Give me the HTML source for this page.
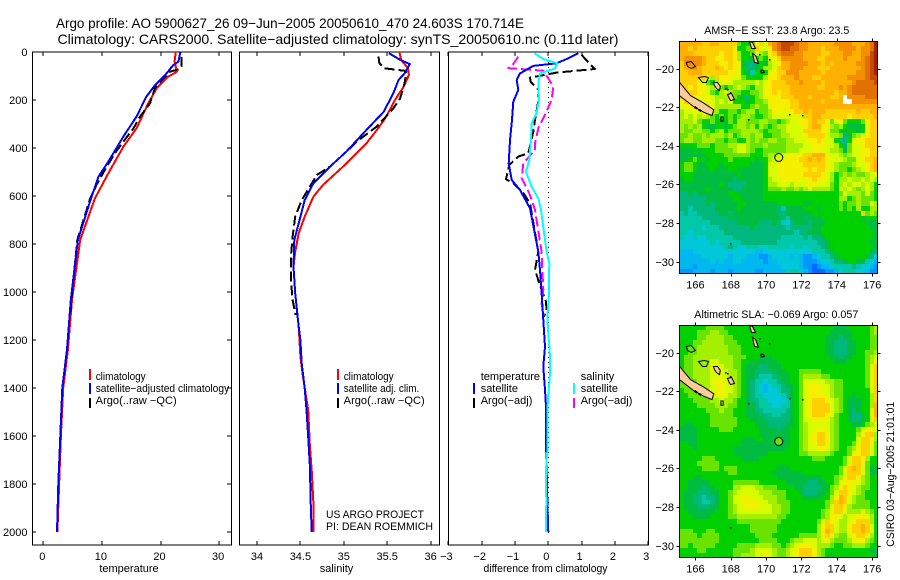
<!DOCTYPE html>
<html lang="en">
<head>
<meta charset="utf-8">
<title>Argo profile 5900627_26</title>
<style>
html,body{margin:0;padding:0;background:#fff}
svg{display:block}
text{font-family:"Liberation Sans",sans-serif;font-size:11px;fill:#000}
.ttl{font-size:14px}
</style>
</head>
<body>
<svg id="fig" xmlns="http://www.w3.org/2000/svg" width="900" height="580" viewBox="0 0 900 580" shape-rendering="crispEdges">
<rect width="900" height="580" fill="#fff"/>
<text class="ttl" x="56" y="28" textLength="468" lengthAdjust="spacingAndGlyphs">Argo profile: AO 5900627_26 09−Jun−2005 20050610_470 24.603S 170.714E</text>
<text class="ttl" x="57.5" y="44" textLength="561" lengthAdjust="spacingAndGlyphs">Climatology: CARS2000. Satellite−adjusted climatology: synTS_20050610.nc (0.11d later)</text>

<g id="panels"></g>
<g id="maps"></g>

<text x="129" y="572" text-anchor="middle">temperature</text>
<text x="336.5" y="572" text-anchor="middle">salinity</text>
<text x="545.5" y="572" text-anchor="middle" textLength="124" lengthAdjust="spacingAndGlyphs">difference from climatology</text>

<g>
<rect x="89" y="369" width="2" height="11" fill="#f00"/>
<text x="95.7" y="380" textLength="50" lengthAdjust="spacingAndGlyphs">climatology</text>
<rect x="89" y="383" width="2" height="11" fill="#00f"/>
<text x="95.7" y="392" textLength="133.5" lengthAdjust="spacingAndGlyphs">satellite−adjusted climatology</text>
<rect x="89" y="398" width="2" height="10" fill="#000"/>
<text x="95.7" y="404" textLength="81" lengthAdjust="spacingAndGlyphs">Argo(..raw −QC)</text>
</g>
<g>
<rect x="337" y="369" width="2" height="11" fill="#f00"/>
<text x="343.7" y="380" textLength="50" lengthAdjust="spacingAndGlyphs">climatology</text>
<rect x="337" y="383" width="2" height="11" fill="#00f"/>
<text x="343.7" y="392" textLength="75.6" lengthAdjust="spacingAndGlyphs">satellite adj. clim.</text>
<rect x="337" y="398" width="2" height="10" fill="#000"/>
<text x="343.7" y="404" textLength="81" lengthAdjust="spacingAndGlyphs">Argo(..raw −QC)</text>
</g>
<g>
<text x="480.7" y="380">temperature</text>
<rect x="473" y="383" width="2" height="11" fill="#00f"/>
<text x="480.7" y="392">satellite</text>
<rect x="473" y="398" width="2" height="10" fill="#000"/>
<text x="480.7" y="404">Argo(−adj)</text>
<text x="580.7" y="380">salinity</text>
<rect x="573" y="383" width="2" height="11" fill="#0ff"/>
<text x="580.7" y="392">satellite</text>
<rect x="573" y="398" width="2" height="10" fill="#f0f"/>
<text x="580.7" y="404">Argo(−adj)</text>
</g>
<text x="326" y="518" textLength="98" lengthAdjust="spacingAndGlyphs">US ARGO PROJECT</text>
<text x="326" y="530" textLength="107" lengthAdjust="spacingAndGlyphs">PI: DEAN ROEMMICH</text>
<text x="704.3" y="34" textLength="145" lengthAdjust="spacingAndGlyphs">AMSR−E SST: 23.8 Argo: 23.5</text>
<text x="694.3" y="318" textLength="164" lengthAdjust="spacingAndGlyphs">Altimetric SLA: −0.069 Argo: 0.057</text>
<text transform="translate(894 546.7) rotate(-90)" textLength="145" lengthAdjust="spacingAndGlyphs">CSIRO 03−Aug−2005 21:01:01</text>
</svg>

<script>
// ---- profile data ----
const depthTicks = [0,200,400,600,800,1000,1200,1400,1600,1800,2000];
const tempTicks = [0,10,20,30];
const salTicks = [34,34.5,35,35.5,36];
const salTickLabels = ['34','34.5','35','35.5','36'];
const diffTicks = [-3,-2,-1,0,1,2,3];

const tempClimDepth = [0,40,82,103,151,214,318,395,492,610,783,1033,1240,1400,1600,1700,2000];
const tempClimValue = [22.6,22.4,22.8,21.3,19.35,17.9,15.9,13.65,11.4,8.8,6.3,4.9,4.2,3.4,3.0,2.85,2.4];
const tempSatDepth = [0,40,54,96,137,186,269,353,457,520,613,783,1033,1240,1400,1600,1800,2000];
const tempSatValue = [23.4,23.05,22.2,20.8,19.1,17.6,15.9,13.65,11.1,9.4,8.1,5.9,4.7,4.05,3.25,2.9,2.56,2.34];
const tempArgoDepth = [20,60,71,82,110,148,214,269,318,366,422,492,553,610,783,1033,1100];
const tempArgoValue = [23.6,23.6,23.3,21.6,20.5,19.1,18.2,16.5,15.4,13.9,12.2,10.5,9.1,8.0,5.8,4.8,4.6];

const salClimDepth = [0,33,68,96,144,200,269,311,381,478,554,603,686,755,832,895,1006,1145,1269,1353,1492,1644,1742,1880,2000];
const salClimValue = [35.64,35.66,35.74,35.75,35.69,35.59,35.49,35.41,35.26,34.99,34.76,34.65,34.55,34.48,34.44,34.42,34.44,34.48,34.5,34.53,34.59,34.61,34.63,34.65,34.65];
const salSatDepth = [5,33,50,89,117,172,249,325,415,478,547,617,714,783,895,1006,1145,1200,1297,1401,1492,1603,1728,1894,2000];
const salSatValue = [35.52,35.65,35.76,35.7,35.63,35.57,35.46,35.26,35.03,34.84,34.65,34.55,34.48,34.43,34.42,34.44,34.48,34.5,34.515,34.55,34.57,34.59,34.61,34.62,34.63];
const salArgoDepth = [19,47,68,79,130,193,235,311,367,415,478,512,561,617,686,769,853,950,1033,1096];
const salArgoValue = [35.4,35.41,35.47,35.72,35.7,35.65,35.57,35.38,35.17,35.03,34.84,34.69,34.61,34.515,34.44,34.41,34.39,34.39,34.41,34.445];

const diffTempSatDepth = [5,29,47,58,89,117,158,207,283,367,464,533,575,651,832,908,1005,1117,1228,1311,1408,1478,1617,1867,2000];
const diffTempSatValue = [0.9,0.55,0.25,-0.45,-0.85,-0.95,-0.9,-1.05,-1.09,-1.15,-1.19,-1.1,-0.85,-0.55,-0.3,-0.25,-0.2,-0.15,-0.1,-0.15,-0.1,-0.07,-0.07,-0.03,0];
const diffSalSatDepth = [5,29,47,68,89,130,200,254,297,367,450,499,561,610,658,832,880,1005,1111,1269,1340,1430,1478,1667,1736,1875,2000];
const diffSalSatValue = [-0.42,-0.15,0.27,0.2,-0.25,-0.3,-0.28,-0.35,-0.5,-0.52,-0.57,-0.67,-0.5,-0.3,-0.22,-0.05,0.03,0.02,-0.03,0.05,0.05,0,-0.02,-0.03,-0.07,-0.06,-0.07];
const diffTempArgoDepth = [12,50,71,86,107,124,158,205,283,332,422,436,471,530,547,588,630,832,908,964,1040,1076,1103];
const diffTempArgoValue = [1.0,1.25,1.4,0.25,-0.55,-0.53,-0.3,-0.3,-0.4,-0.45,-0.6,-0.9,-1.17,-1.27,-1.05,-0.75,-0.55,-0.3,-0.4,-0.27,-0.07,-0.05,-0.13];
const diffSalArgoDepth = [19,50,67,72,78,110,144,200,262,318,381,408,464,526,596,658,832,908,992,1049,1097];
const diffSalArgoValue = [-0.9,-1.05,-1.2,-0.75,-0.15,0,0.15,0.1,-0.1,-0.3,-0.4,-0.4,-0.75,-0.8,-0.55,-0.4,-0.2,-0.18,-0.15,-0.2,-0.13];

// ---- map data: colour-scale step per 0.25 degree cell, north to south ----
const mapLonTicks = [166,168,170,172,174,176];
const mapLatTicks = [-20,-22,-24,-26,-28,-30];
const n = null;
const sstLevels = [
[13,13,13,13,13,12,12,13,13,12,12,12,12,8,7,7,8,11,12,10,13,14,15,16,16,16,15,14,14,13,13,13,13,13,13,14,14,14,14,13,13,13,14,15,17],
[13,13,12,13,12,12,12,12,12,12,12,12,11,7,7,8,8,12,10,10,11,14,15,16,16,15,15,14,14,13,13,13,12,13,13,13,14,14,14,14,13,14,14,15,17],
[13,13,13,12,12,12,12,12,12,11,12,12,11,9,7,7,8,10,9,8,11,12,14,15,15,15,14,14,13,13,13,13,12,12,13,13,13,14,14,13,13,14,14,16,17],
[13,14,14,14,14,13,12,12,11,11,12,12,11,9,7,7,6,7,8,7,10,11,12,14,14,14,14,14,13,13,13,12,12,13,13,13,13,14,13,13,13,14,15,16,17],
[12,14,14,14,14,13,12,12,12,11,11,12,11,11,6,5,5,6,7,6,9,10,11,13,13,14,14,14,14,13,13,13,12,13,12,13,13,13,13,13,14,14,15,16,17],
[12,13,13,14,13,12,12,12,13,12,11,12,11,10,7,5,5,6,7,9,9,10,12,13,13,14,14,14,13,13,13,12,12,12,13,13,13,13,13,13,13,14,15,16,17],
[12,12,13,13,13,12,12,12,12,12,12,11,11,10,7,6,4,7,7,7,10,11,12,12,14,14,14,13,13,13,13,13,12,13,13,13,13,13,13,13,14,14,15,16,17],
[12,12,12,12,12,12,11,9,12,11,11,11,10,10,8,7,7,7,7,9,11,11,12,13,13,13,14,13,13,13,12,12,13,13,13,13,13,13,14,14,14,14,15,16,16],
[12,12,12,12,11,10,8,7,9,10,11,10,9,9,9,9,9,10,9,10,11,12,12,12,13,13,13,14,13,13,13,13,12,13,13,13,13,13,13,14,15,15,15,15,16],
[12,12,11,12,11,11,10,9,10,8,7,8,9,10,9,8,7,9,9,11,11,12,12,12,12,13,13,13,13,13,13,12,12,13,13,13,14,13,14,15,15,15,15,15,15],
[12,12,12,12,11,11,10,8,7,9,10,9,8,8,7,7,8,8,9,11,11,12,11,12,12,13,13,13,13,13,13,13,13,13,13,12,13,13,14,15,15,15,15,15,15],
[12,12,11,11,10,11,11,10,9,9,9,9,8,7,6,5,7,8,9,10,11,11,11,12,12,12,13,13,13,12,13,13,13,13,12,12,13,n,14,14,14,14,15,15,15],
[11,12,11,11,11,10,11,10,9,10,9,10,7,7,7,6,7,8,8,9,11,11,11,11,11,12,12,13,13,13,13,13,12,13,13,13,13,n,n,14,14,14,14,14,14],
[10,11,11,11,11,9,10,11,9,9,9,9,9,9,7,7,8,9,8,8,10,11,11,11,11,12,12,13,13,13,13,13,13,13,13,13,13,13,13,13,13,13,13,13,13],
[9,10,10,11,10,10,9,9,9,7,7,8,8,7,8,9,9,7,8,8,9,11,11,10,11,11,12,12,13,12,13,13,13,12,12,12,12,12,12,12,13,12,12,13,13],
[9,10,9,10,9,10,9,8,7,8,7,8,7,8,9,9,8,7,7,8,9,10,10,10,10,10,11,10,12,12,13,13,12,12,12,12,12,12,11,12,12,12,12,12,13],
[9,9,9,10,8,7,7,8,7,7,6,8,7,9,9,8,8,8,9,9,8,8,7,8,9,10,10,11,11,12,13,12,12,11,8,10,11,8,7,7,7,8,11,12,12],
[9,8,9,8,9,7,6,6,7,7,6,7,8,9,9,8,9,7,9,8,7,8,9,9,10,10,10,11,11,12,13,13,11,11,9,8,9,7,6,6,6,7,11,12,12],
[9,8,8,9,9,8,8,7,8,9,7,8,8,8,9,9,9,9,8,7,8,8,8,9,10,10,10,10,12,12,12,12,11,10,8,8,7,6,7,7,6,7,11,12,12],
[8,8,9,8,8,9,8,9,9,9,8,9,7,8,9,9,8,9,9,7,7,8,8,9,9,10,10,10,11,12,12,12,12,10,9,9,8,5,6,8,9,10,11,12,12],
[8,9,9,8,8,9,9,9,8,8,7,8,8,7,7,9,8,9,8,8,9,9,8,8,9,9,10,10,10,11,11,12,11,10,10,7,5,5,7,10,11,11,12,12,12],
[7,7,7,7,8,8,8,7,8,8,8,9,9,10,10,9,8,8,8,9,8,8,8,8,9,9,9,9,10,10,11,11,11,10,10,9,7,5,8,10,10,11,12,12,12],
[6,6,6,7,6,7,7,7,8,8,8,8,9,10,10,9,8,7,7,8,8,8,8,8,9,9,9,10,10,10,11,11,10,10,9,9,8,6,8,10,10,11,11,12,12],
[6,6,6,6,6,6,7,7,7,7,8,8,8,8,8,8,7,7,7,8,9,9,10,10,10,11,11,11,12,12,13,13,13,11,10,10,9,8,9,10,10,11,11,12,12],
[6,6,7,8,7,7,6,7,7,7,7,8,7,7,7,7,7,6,7,7,9,10,10,11,11,11,11,12,12,13,12,13,12,11,10,10,10,9,8,8,10,11,12,12,13],
[7,8,8,7,6,6,7,7,7,6,7,7,7,7,7,7,6,6,6,7,10,10,11,11,11,11,11,11,12,12,12,12,12,11,10,9,8,8,8,9,10,10,11,12,13],
[7,8,8,7,6,6,6,7,6,6,6,7,7,6,6,6,6,6,6,7,10,10,11,11,11,11,11,11,11,12,11,12,12,11,10,9,8,8,7,8,9,10,11,12,13],
[7,7,7,6,6,6,6,6,6,6,6,6,6,7,6,6,6,6,6,7,10,10,11,11,11,11,11,11,12,12,12,12,11,10,9,7,8,9,8,9,8,8,9,10,10],
[6,7,7,6,6,6,6,6,6,6,6,6,5,6,6,6,6,6,6,7,9,10,10,11,11,11,11,10,11,11,12,11,11,10,9,7,9,9,10,9,9,10,9,10,9],
[6,6,6,6,6,6,6,6,6,7,6,5,5,5,5,6,6,6,6,7,9,9,10,10,10,9,10,10,10,11,11,10,10,10,8,7,9,10,9,10,10,9,10,9,7],
[6,6,6,6,6,6,7,6,6,6,6,6,5,5,6,6,6,6,6,7,8,8,8,9,8,8,9,8,9,10,9,9,9,9,8,7,10,9,10,9,8,9,10,9,7],
[5,5,6,5,6,6,6,6,6,6,6,7,7,6,6,6,6,6,6,7,7,7,7,7,7,7,7,7,7,7,7,7,7,7,7,7,8,10,9,9,9,8,10,8,7],
[5,5,5,5,5,5,6,6,6,6,6,6,7,7,6,6,6,6,6,7,7,7,7,7,7,7,7,7,7,7,7,7,7,7,7,7,9,9,7,8,9,8,8,8,7],
[5,5,5,5,5,5,6,5,6,6,6,6,6,7,7,6,6,6,6,6,6,6,7,7,7,7,7,7,6,6,7,7,7,7,7,7,8,7,8,8,9,8,8,10,9],
[5,5,4,5,5,5,5,5,6,6,6,6,6,7,6,6,6,6,6,6,6,6,5,4,6,6,6,6,7,7,7,6,7,7,7,7,8,7,8,7,9,7,7,9,9],
[4,5,4,4,5,5,5,5,5,6,6,5,6,6,6,6,6,6,6,6,6,6,5,5,6,6,6,6,6,6,7,7,7,7,7,7,7,7,7,7,7,12,8,9,8],
[4,4,4,4,4,5,5,5,5,5,5,6,6,6,6,6,6,6,6,6,6,6,6,5,4,6,6,6,5,6,6,6,7,7,7,7,7,7,7,7,7,6,7,7,7],
[4,4,4,4,4,4,4,5,5,5,5,5,5,6,6,6,6,6,5,5,5,6,5,4,3,5,6,6,6,5,6,6,6,7,7,7,7,7,7,7,7,7,6,6,6],
[4,4,4,4,4,3,4,4,4,5,5,5,5,5,5,5,6,5,5,5,5,5,5,5,4,5,5,5,5,5,6,6,7,7,7,7,7,7,7,7,7,7,7,6,6],
[4,4,3,4,4,4,4,4,4,4,5,5,5,5,5,5,5,5,5,5,5,5,5,5,5,5,4,5,5,6,6,6,7,7,7,7,7,7,7,7,7,7,7,7,6],
[4,3,3,4,3,3,4,4,4,4,4,4,5,5,5,5,5,5,5,5,5,5,5,4,4,4,4,4,5,4,5,5,6,7,7,7,7,7,7,7,7,7,7,7,6],
[3,3,3,3,3,3,3,4,3,4,4,4,4,4,5,5,5,5,5,5,5,5,4,4,4,4,4,4,4,4,4,5,5,6,7,7,7,7,7,7,7,7,7,6,6],
[3,3,3,3,3,3,3,3,3,3,4,5,4,3,3,4,4,4,3,3,4,4,4,4,4,3,4,4,3,4,4,4,5,6,7,7,7,7,7,7,7,7,7,7,6],
[2,2,2,3,3,3,3,3,3,3,3,3,3,3,3,3,3,2,2,3,3,3,3,3,3,3,3,3,3,3,4,4,4,5,6,7,7,7,7,7,7,7,7,6,5],
[2,2,2,2,2,3,3,3,3,3,3,2,3,3,3,2,2,2,1,1,2,3,3,3,3,2,3,2,1,1,2,3,4,4,5,6,7,7,7,7,7,7,6,5,3],
[2,2,2,2,2,2,2,3,2,3,2,2,3,3,2,2,2,2,2,1,2,2,3,3,3,3,3,2,1,1,1,2,3,3,4,5,5,6,7,7,6,6,4,3,2],
[2,2,2,1,2,2,2,2,2,2,2,2,2,2,2,2,2,2,2,2,2,2,2,3,3,3,3,2,1,1,0,1,2,2,3,4,4,4,4,5,4,3,3,2,1],
[1,1,1,2,2,2,2,1,2,2,2,1,2,2,2,2,2,1,1,2,2,2,2,2,3,4,4,3,2,1,0,0,0,1,1,2,3,4,4,4,3,3,2,1,1]
];
const slaLevels = [
[7,7,7,7,7,7,8,8,8,8,7,7,7,7,7,7,7,7,7,7,7,7,7,7,7,7,7,7,7,7,7,7,7,7,7,6,6,6,7,7,7,7,7,8,9],
[7,7,7,7,8,8,8,9,9,8,8,7,7,7,7,7,7,7,7,7,7,7,7,7,7,7,7,7,7,7,7,7,7,7,6,6,6,6,6,7,7,7,7,8,9],
[7,7,7,7,8,8,9,9,9,9,8,8,7,7,7,7,7,7,7,7,7,7,7,7,7,7,7,7,7,7,7,7,7,6,6,6,5,6,6,7,7,7,7,8,8],
[7,7,7,8,8,9,9,9,9,9,8,8,8,7,7,7,7,7,7,7,7,7,7,7,7,7,7,7,7,7,7,7,7,6,6,5,5,5,6,6,7,7,7,8,8],
[7,7,8,8,9,9,9,9,9,9,9,8,8,8,7,7,7,7,7,7,7,7,7,7,7,7,7,7,7,7,7,7,7,6,6,5,5,5,6,6,7,7,7,8,8],
[7,7,8,8,9,9,9,9,9,9,9,8,8,8,7,7,7,7,7,7,7,7,7,7,7,7,7,7,7,7,7,7,7,6,6,5,5,5,6,6,7,7,8,8,9],
[7,8,8,9,9,9,9,9,9,9,9,9,8,8,8,7,7,7,6,6,6,7,7,7,7,7,7,7,7,7,7,7,7,7,6,6,5,6,6,7,7,7,8,9,10],
[7,8,8,9,9,9,9,10,10,9,9,9,8,8,7,7,6,6,6,6,6,6,7,7,7,7,7,7,7,7,7,7,7,7,7,6,6,6,7,7,7,7,8,9,11],
[7,8,8,9,9,9,9,10,10,10,9,9,8,8,7,6,6,6,5,5,6,6,6,7,7,7,7,7,7,7,7,7,7,7,7,7,7,7,7,7,7,7,8,10,12],
[8,8,8,9,9,9,9,10,10,10,10,9,9,8,7,6,6,5,5,5,5,6,6,6,7,7,7,8,8,8,8,8,7,7,7,7,7,7,7,7,7,7,8,10,12],
[8,8,8,9,9,9,9,10,10,10,10,9,9,8,7,6,6,5,4,4,4,5,6,6,6,7,7,8,9,9,9,9,8,8,7,7,7,7,7,7,7,7,8,10,12],
[8,8,8,8,9,9,9,10,11,11,10,9,9,8,7,6,5,4,4,3,4,4,5,6,6,7,7,8,10,10,10,10,10,9,9,8,8,7,7,7,7,7,8,10,12],
[8,8,8,8,8,9,9,10,11,11,10,10,9,8,7,6,5,4,3,2,3,4,4,5,6,6,7,8,10,11,11,11,10,10,9,8,8,7,7,7,7,7,8,10,12],
[7,8,8,8,8,8,9,10,11,11,10,10,9,8,7,6,5,4,3,2,3,3,4,5,5,6,7,8,10,11,11,11,10,10,9,8,8,7,7,7,7,7,7,10,12],
[7,7,8,8,8,8,9,10,10,11,10,9,9,8,7,6,5,4,4,3,3,3,3,4,5,6,7,8,10,11,11,11,11,10,9,8,8,7,7,6,7,7,7,9,12],
[7,7,7,8,8,8,8,9,9,10,9,9,8,7,7,6,5,5,4,4,3,3,3,3,4,6,7,8,10,11,12,12,12,11,10,9,8,7,6,6,6,7,7,9,12],
[7,7,7,7,8,8,8,8,9,9,9,8,8,7,7,6,6,5,4,4,4,3,3,4,4,6,7,8,10,11,12,12,12,12,10,9,8,7,6,6,6,7,7,9,13],
[7,7,7,7,7,7,8,8,8,9,8,8,7,7,7,6,6,5,5,4,4,4,4,4,5,6,7,8,10,11,12,12,12,12,10,9,8,7,6,5,6,7,7,10,13],
[7,7,7,7,7,7,7,8,8,8,8,8,7,7,7,6,6,6,5,5,5,4,4,5,5,6,7,8,10,11,12,12,12,11,10,8,7,7,6,5,5,6,7,10,13],
[7,7,7,7,7,7,7,8,8,8,8,8,8,7,7,7,6,6,6,5,5,5,5,5,5,6,7,8,10,10,11,11,11,10,9,8,7,7,6,5,5,6,7,10,12],
[7,6,6,7,7,7,7,8,8,8,8,8,8,7,7,7,7,6,6,6,5,5,5,5,6,6,7,8,9,10,10,10,10,10,9,8,7,7,7,6,6,7,8,9,10],
[6,6,6,6,7,7,7,7,7,8,8,8,7,7,7,7,7,7,6,6,6,6,5,6,6,7,7,8,9,10,10,11,11,10,9,8,7,7,7,7,8,10,11,11,10],
[6,6,6,6,7,7,7,7,7,7,7,7,7,7,7,7,7,7,6,6,6,6,6,6,6,7,7,8,9,10,11,12,12,11,9,8,7,7,7,7,9,11,12,12,9],
[6,6,6,6,7,7,7,7,7,7,7,7,7,7,6,6,6,7,7,6,6,6,6,6,6,7,7,8,9,10,11,12,12,11,9,8,7,7,7,7,10,12,12,11,9],
[7,7,6,6,7,7,7,7,7,7,7,7,7,7,6,6,6,6,6,6,6,6,6,6,6,7,7,8,9,10,11,12,12,11,9,8,7,7,7,8,10,12,12,11,8],
[7,7,7,6,7,7,7,7,7,7,7,7,6,6,6,6,6,6,6,6,6,6,6,6,7,7,7,8,9,10,10,11,11,10,9,8,7,7,8,9,11,12,12,10,8],
[7,7,7,7,7,7,7,7,7,7,7,7,6,6,6,6,6,6,6,6,7,7,7,7,7,7,7,8,8,9,9,9,9,9,8,7,7,7,8,10,11,12,12,10,8],
[7,7,7,7,7,8,8,8,7,7,7,7,7,7,6,6,6,6,7,7,7,7,7,7,7,7,7,7,7,7,8,8,8,7,7,7,7,8,10,12,12,11,9,7,7],
[7,7,7,7,8,8,8,8,8,7,7,7,7,7,7,7,7,7,7,7,7,7,7,7,7,7,7,7,7,7,7,7,7,7,7,7,7,8,10,12,12,11,8,7,7],
[7,7,7,7,7,8,8,8,8,7,8,8,8,7,7,7,7,7,7,7,7,7,6,6,6,7,7,7,7,7,7,7,7,7,7,7,8,10,12,13,12,10,8,6,6],
[7,7,7,7,7,7,7,7,7,7,7,8,8,7,7,7,7,7,7,7,7,6,6,6,6,6,6,6,7,7,7,7,7,7,7,7,8,10,12,12,12,10,8,6,6],
[7,7,7,6,6,7,7,7,7,7,7,7,7,7,7,7,7,7,7,7,7,7,6,6,6,6,6,6,6,6,6,6,7,7,7,8,9,11,12,12,11,9,8,7,7],
[7,7,6,6,6,6,6,7,7,7,7,7,8,8,8,8,8,8,7,7,7,7,7,7,6,6,6,6,6,5,5,6,6,7,7,8,10,11,11,11,10,9,8,7,7],
[7,7,6,6,6,5,6,6,7,7,7,7,9,9,10,10,10,9,9,8,8,8,7,7,7,7,6,6,5,5,5,5,6,6,8,9,11,12,11,10,9,8,8,7,7],
[7,6,6,6,5,5,5,6,6,7,7,8,9,10,10,10,10,10,9,9,9,8,8,8,7,7,7,6,5,5,5,6,6,7,8,10,12,12,11,10,9,8,7,7,7],
[7,6,6,5,5,4,5,5,6,7,7,8,10,10,11,11,10,10,10,9,9,9,8,8,7,7,7,7,6,6,6,6,7,7,9,11,13,12,10,9,8,8,7,7,7],
[7,6,6,5,5,4,4,5,6,7,7,8,10,10,11,11,11,10,10,10,9,9,8,8,8,7,7,7,7,7,7,7,7,8,9,12,13,12,10,9,8,8,8,7,7],
[7,6,6,6,5,5,5,6,6,7,7,8,9,10,10,11,11,11,10,10,10,9,9,8,8,7,7,7,7,7,7,7,7,8,10,12,12,11,9,8,8,8,8,7,7],
[7,7,6,6,6,6,6,6,7,7,7,8,9,10,10,10,10,10,10,10,10,9,9,8,8,7,7,7,7,7,7,7,8,9,10,12,12,10,9,9,9,10,9,8,7],
[7,7,7,6,6,6,6,7,7,7,7,8,8,9,9,9,9,9,9,9,9,9,8,8,7,7,7,7,7,7,7,7,8,9,11,11,10,9,10,10,11,11,10,9,7],
[7,7,7,7,7,7,7,7,7,7,7,7,7,8,8,8,8,8,8,8,8,8,8,7,7,7,7,7,7,7,7,8,10,12,11,10,9,9,10,11,12,12,12,9,7],
[7,7,7,7,7,7,7,7,7,7,7,7,7,7,7,7,8,8,8,8,8,8,7,7,7,7,7,7,7,7,7,9,11,12,12,10,9,9,11,12,12,13,12,10,7],
[8,8,8,7,7,7,8,8,7,7,7,7,7,7,7,7,8,8,8,8,8,8,7,7,7,7,7,7,7,7,7,9,11,13,12,10,9,9,11,12,12,13,12,10,7],
[8,8,8,8,7,8,8,8,8,7,7,7,7,7,7,7,7,8,8,8,8,7,7,7,7,7,7,8,8,8,8,9,11,12,11,9,8,8,10,11,12,12,11,9,7],
[8,8,8,8,8,8,8,8,8,7,7,7,7,7,7,7,7,7,8,8,8,8,7,7,7,8,9,9,10,10,10,9,10,11,9,8,8,8,9,10,11,11,9,8,7],
[8,8,7,8,8,8,8,8,7,7,7,7,7,8,8,8,8,9,9,9,9,8,8,7,8,9,10,11,11,11,10,9,9,9,8,7,7,8,8,9,9,9,8,7,7],
[7,7,7,7,8,8,7,7,7,7,7,7,8,8,8,8,9,10,10,10,10,9,8,8,9,10,11,12,12,12,11,9,8,7,7,7,7,7,7,7,7,7,7,6,6],
[7,7,7,7,7,7,7,7,7,7,7,7,8,8,9,9,9,10,10,11,10,9,8,8,9,10,11,12,12,12,11,9,8,7,6,7,7,7,7,7,7,7,7,7,6]
];
const grandeTerreLon = [165.1,165.72,166.47,167.04,166.94,166.47,165.9,165.1];
const grandeTerreLat = [-20.7,-21.39,-21.78,-22.13,-22.43,-22.25,-21.96,-21.39];
const coastPatchLon = [165.95,166.15,166.4];
const coastPatchLat = [-21.98,-22.1,-22.22];
const islandOutlineLon = [[165.49,165.77,166,165.77,165.55],[166.17,166.51,166.74,166.62,166.4],[167.02,167.25,167.41,167.36,167.19,167.08],[167.81,168.04,168.21,167.98],[169.06,169.23,169.4,169.17],[169.23,169.4,169.57,169.34],[169.7,169.85,169.9,169.72],[167.44,167.57,167.57,167.44]];
const islandOutlineLat = [[-19.67,-19.62,-19.88,-19.98,-19.88],[-20.45,-20.4,-20.45,-20.71,-20.71],[-20.71,-20.71,-20.92,-21.13,-21.02,-20.87],[-21.33,-21.28,-21.59,-21.65],[-18.58,-18.63,-18.95,-18.95],[-19.2,-19.31,-19.72,-19.67],[-20.08,-20.08,-20.2,-20.22],[-22.5,-22.5,-22.72,-22.72]];
const islandFilled = [false,false,true,true,true,true,false,false];
const islandDotLon = [168.96,169.58,170.15,167.98,171.28,172.04,167.8,167.65,167.95];
const islandDotLat = [-22.6,-19.25,-19.5,-29.05,-22.35,-22.4,-21.07,-20.98,-21.2];
const floatLon = 170.714;
const floatLat = -24.603;
const floatSlaLevel = 8;

// ---- drawing ----
const NS = 'http://www.w3.org/2000/svg';
function el(tag, attrs, parent, txt){
  const e = document.createElementNS(NS, tag);
  for(const k in attrs){ e.setAttribute(k, attrs[k]); }
  if(txt !== undefined){ e.textContent = txt; }
  parent.appendChild(e);
  return e;
}
const panelsG = document.getElementById('panels');
const mapsG = document.getElementById('maps');
const TOP = 52, BOTTOM = 545;
function depthY(d){ return 52 + d * 0.24; }
function tempX(v){ return 43.3 + v * 5.86; }
function salX(v){ return 257 + (v - 34) * 86.8; }
function diffX(v){ return 548.3 + v * 33.3; }

function frame(x0, x1, name){
  const f = el('rect', {x:x0, y:TOP, width:x1-x0, height:BOTTOM-TOP, fill:'#fff', stroke:'#000', 'stroke-width':1}, panelsG);
  
  
}
function xTicks(ticks, labels, sx, name, labelShift){
  ticks.forEach(function(t, i){
    const x = Math.round(sx(t));
    const tk = el('path', {d:'M'+x+' '+TOP+'v4M'+x+' '+BOTTOM+'v-4', stroke:'#000', 'stroke-width':1, fill:'none'}, panelsG);
    
    
    const lb = el('text', {x:sx(t)+(labelShift||0), y:560, 'text-anchor':'middle'}, panelsG, labels[i]);
    
    
  });
}
function series(depths, values, sx, color, dashed, name){
  const pts = depths.map(function(d, i){ return sx(values[i]).toFixed(1) + ',' + depthY(d).toFixed(1); }).join(' ');
  const attrs = {points:pts, fill:'none', stroke:color, 'stroke-width':2, 'stroke-linejoin':'round'};
  if(dashed){ attrs['stroke-dasharray'] = '10 4'; }
  const p = el('polyline', attrs, panelsG);
  
  
}

frame(32.5, 231.5, 'temperature-plot-frame');
frame(239.5, 439.5, 'salinity-plot-frame');
frame(448.5, 648.5, 'difference-plot-frame');

depthTicks.forEach(function(d){
  const y = Math.round(depthY(d));
  const tk = el('path', {d:'M32 '+y+'h4M231 '+y+'h-4', stroke:'#000', 'stroke-width':1, fill:'none'}, panelsG);
  
  
  const lb = el('text', {x:27.5, y:y+4, 'text-anchor':'end'}, panelsG, String(d));
  
  
});
xTicks(tempTicks, tempTicks.map(String), tempX, 'temperature', -1);
xTicks(salTicks, salTickLabels, salX, 'salinity', 0);
xTicks(diffTicks, diffTicks.map(function(v){ return v < 0 ? '−' + (-v) : String(v); }), diffX, 'difference', -2);

const zeroLine = el('line', {x1:548.5, x2:548.5, y1:depthY(0), y2:537, stroke:'#000', 'stroke-width':1, 'stroke-dasharray':'1 4'}, panelsG);



series(tempClimDepth, tempClimValue, tempX, '#f00', false, 'temperature-climatology-line');
series(tempArgoDepth, tempArgoValue, tempX, '#000', true, 'temperature-argo-line');
series(tempSatDepth, tempSatValue, tempX, '#00f', false, 'temperature-satellite-line');
series(salClimDepth, salClimValue, salX, '#f00', false, 'salinity-climatology-line');
series(salArgoDepth, salArgoValue, salX, '#000', true, 'salinity-argo-line');
series(salSatDepth, salSatValue, salX, '#00f', false, 'salinity-satellite-line');
series(diffTempArgoDepth, diffTempArgoValue, diffX, '#000', true, 'difference-temperature-argo-line');
series(diffSalArgoDepth, diffSalArgoValue, diffX, '#f0f', true, 'difference-salinity-argo-line');
series(diffTempSatDepth, diffTempSatValue, diffX, '#00f', false, 'difference-temperature-satellite-line');
series(diffSalSatDepth, diffSalSatValue, diffX, '#0ff', false, 'difference-salinity-satellite-line');

// ---- maps ----
const palette = ['#0068ff','#0098ff','#00b8f0','#00c8d8','#00c8a8','#00b87c','#00bc40','#00d000','#68e400','#a4f000','#d8fc00','#f4f000','#ffd000','#ffb000','#f49000','#e07000','#c84800','#a02000'];
function colourOf(level){ return palette[Math.max(0, Math.min(palette.length-1, Math.round(level)))]; }
const LON0 = 165.1, LON1 = 176.3, LAT0 = -18.585, LAT1 = -30.62;
const X0 = 679.5, X1 = 877.5;

function drawMap(levels, Y0, Y1, key, floatLevel){
  const lonX = function(l){ return X0 + (l - LON0) / (LON1 - LON0) * (X1 - X0); };
  const latY = function(l){ return Y0 + (l - LAT0) / (LAT1 - LAT0) * (Y1 - Y0); };
  const stepLon = 0.25, stepLat = (LAT0 - LAT1) / 48;
  const colEdge = function(i){ return Math.min(Math.round(X1), Math.round(lonX(LON0 + i * stepLon))); };
  const rowEdge = function(j){ return Math.round(latY(LAT0 - j * stepLat)); };
  const g = el('g', {}, mapsG);
  
  
  levels.forEach(function(row, j){
    row.forEach(function(v, i){
      const x = colEdge(i), x2 = colEdge(i + 1);
      const y = rowEdge(j), y2 = rowEdge(j + 1);
      const c = el('rect', {x:x, y:y, width:x2-x, height:y2-y, fill: v === null ? '#fff' : colourOf(v)}, g);
      
      
    });
  });
  const polyPts = function(lons, lats){ return lons.map(function(l, i){ return lonX(l).toFixed(1) + ',' + latY(lats[i]).toFixed(1); }).join(' '); };
  const gt = el('polygon', {points:polyPts(grandeTerreLon, grandeTerreLat), fill:'#ffcc99', stroke:'#000', 'stroke-width':1, 'shape-rendering':'auto'}, g);
  
  
  const patch = el('polyline', {points:polyPts(coastPatchLon, coastPatchLat), fill:'none', stroke:'#000', 'stroke-width':2, 'stroke-dasharray':'3 2'}, g);
  
  
  islandOutlineLon.forEach(function(lons, k){
    const isl = el('polygon', {points:polyPts(lons, islandOutlineLat[k]), fill: islandFilled[k] ? '#ffcc99' : 'none', stroke:'#000', 'stroke-width':1, 'shape-rendering':'auto'}, g);
    
    
  });
  islandDotLon.forEach(function(l, k){
    const dt = el('rect', {x:Math.round(lonX(l)), y:Math.round(latY(islandDotLat[k])), width:1.5, height:1.5, fill:'#000'}, g);
    
    
  });
  const mk = el('circle', {cx:lonX(floatLon), cy:latY(floatLat), r:4, fill: floatLevel === null ? 'none' : colourOf(floatLevel), stroke:'#000', 'stroke-width':1, 'shape-rendering':'auto'}, g);
  
  
  const fr = el('rect', {x:X0, y:Y0, width:X1-X0, height:Y1-Y0, fill:'none', stroke:'#000', 'stroke-width':1}, g);
  
  
  mapLonTicks.forEach(function(l){
    const x = Math.round(lonX(l)) + 0.5;
    const tk = el('path', {d:'M'+x+' '+Y0+'v-3M'+x+' '+Y1+'v3', stroke:'#000', 'stroke-width':1, fill:'none'}, g);
    
    
    const lb = el('text', {x:lonX(l), y:Y1+15, 'text-anchor':'middle'}, g, String(l));
    
    
  });
  mapLatTicks.forEach(function(l){
    const y = Math.round(latY(l)) + 0.5;
    const tk = el('path', {d:'M'+X0+' '+y+'h-3M'+X1+' '+y+'h3', stroke:'#000', 'stroke-width':1, fill:'none'}, g);
    
    
    const lb = el('text', {x:674, y:y+3.5, 'text-anchor':'end'}, g, '−' + (-l));
    
    
  });
}
drawMap(sstLevels, 41.5, 273.5, 'sst', null);
drawMap(slaLevels, 325.5, 557.5, 'sla', floatSlaLevel);
</script>
</body>
</html>
